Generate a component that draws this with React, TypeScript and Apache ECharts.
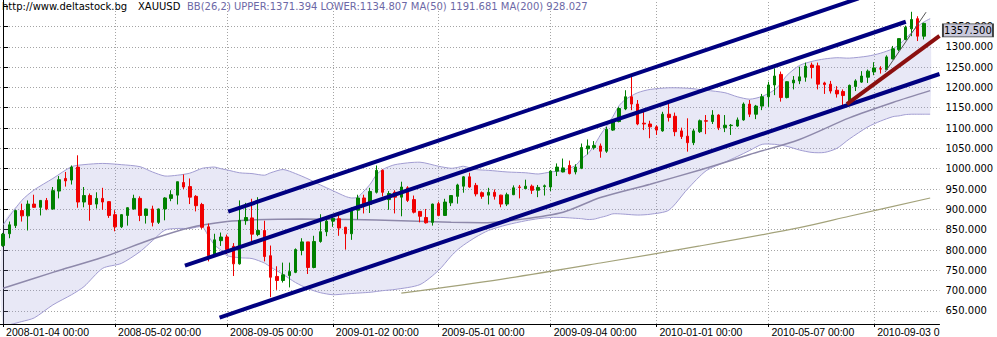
import React, { useEffect, useRef } from 'react';
import * as echarts from 'echarts';

// ---------- categories (weekly bars) ----------
const firstWeek = '2007-12-28';
const slotCount = 151; // 149 bars + 2 empty slots on the right
const categories: string[] = (() => {
  const out: string[] = [];
  const d0 = new Date(firstWeek + 'T00:00:00Z');
  for (let k = 0; k < slotCount; k++) {
    const d = new Date(d0.getTime() + k * 7 * 86400000);
    out.push(d.toISOString().slice(0, 10));
  }
  return out;
})();

// ---------- x tick labels ----------
const xTickIndex = [0, 18, 36, 53, 70, 88, 105, 123, 140];
const xTickLabels = [
  '2008-01-04 00:00', '2008-05-02 00:00', '2008-09-05 00:00', '2009-01-02 00:00',
  '2009-05-01 00:00', '2009-09-04 00:00', '2010-01-01 00:00', '2010-05-07 00:00', '2010-09-03 0',
];

// ---------- y ticks ----------
const yLabelValues = [650, 700, 750, 800, 850, 900, 950, 1000, 1050, 1100, 1150, 1200, 1250, 1300, 1350];
const yTickValues = [650, 700, 750, 800, 850, 900, 950, 1000, 1050, 1100, 1150, 1200, 1250, 1300, 1350, 1400];
const yGridValues = [650, 700, 750, 800, 850, 900, 950, 1000, 1050, 1100, 1150, 1200, 1250, 1300, 1350];
const yMin = 618;
const yMax = 1415;

// ---------- OHLC ----------
const open = [811,840,860,897,884,913,905,922,901,945,976,972,1004,918,934,913,927,919,887,857,885,901,927,885,901,868,901,927,935,966,956,932,912,857,788,823,832,809,766,872,879,838,848,786,735,725,737,745,799,820,757,821,845,871,877,856,840,898,928,912,942,996,924,942,930,953,924,895,880,868,914,885,916,932,957,980,959,941,935,942,935,913,936,955,951,957,947,956,955,994,992,1008,992,1001,1049,1052,1056,1043,1095,1116,1147,1177,1159,1112,1110,1103,1093,1134,1129,1093,1080,1064,1091,1118,1116,1132,1101,1106,1105,1120,1159,1134,1154,1177,1206,1232,1175,1211,1216,1225,1255,1253,1211,1208,1193,1190,1160,1202,1213,1225,1238,1246,1244,1270,1293,1318,1344,1369,1326];
const close = [839,862,897,884,913,905,922,901,946,973,970,1004,918,934,912,927,918,885,857,887,904,927,885,901,868,901,928,936,968,955,930,909,856,786,825,832,801,766,873,880,839,848,784,733,725,739,747,801,820,757,821,845,871,878,854,840,899,928,912,944,996,942,939,930,955,922,893,883,867,913,885,918,934,960,980,955,938,932,942,932,913,936,953,954,957,947,954,958,994,1004,1002,988,1004,1052,1056,1057,1043,1097,1116,1148,1177,1159,1110,1110,1103,1095,1134,1126,1091,1079,1064,1093,1118,1117,1132,1101,1107,1107,1120,1159,1134,1154,1177,1206,1228,1175,1214,1218,1226,1252,1249,1208,1207,1191,1184,1180,1205,1216,1228,1240,1248,1245,1275,1295,1320,1348,1367,1326,1357.5];
const low = [808,829,854,870,848,904,885,898,899,927,956,961,904,905,872,902,899,879,846,854,860,899,871,865,858,864,873,920,912,950,913,895,852,772,786,810,790,736,764,862,821,834,772,684,702,720,708,743,787,741,755,818,834,857,835,801,825,875,890,891,939,932,899,890,883,918,890,868,865,860,883,884,908,914,941,953,932,926,912,924,905,908,935,927,950,938,930,934,945,982,991,986,986,999,1035,1047,1027,1039,1093,1114,1144,1144,1107,1095,1075,1083,1091,1116,1080,1073,1042,1058,1088,1085,1110,1095,1090,1083,1103,1118,1127,1122,1144,1152,1181,1165,1173,1195,1208,1214,1222,1195,1184,1185,1175,1155,1158,1191,1211,1211,1230,1234,1243,1269,1289,1316,1326,1314,1318];
const high = [842,870,899,914,922,936,922,928,955,982,992,1008,1033,955,939,942,953,920,898,888,905,936,932,902,909,902,930,947,968,986,976,935,916,865,840,843,838,817,922,916,926,930,872,811,760,769,769,804,829,820,835,888,879,887,887,857,905,936,936,953,1008,998,945,947,968,957,934,896,901,914,919,926,935,963,982,990,965,944,953,949,936,941,959,960,973,961,960,961,996,1013,1025,1020,1011,1062,1072,1068,1062,1103,1121,1152,1193,1226,1169,1140,1118,1107,1140,1161,1138,1101,1124,1098,1121,1132,1144,1134,1132,1110,1126,1163,1169,1157,1184,1214,1247,1239,1215,1228,1251,1261,1261,1261,1214,1216,1203,1195,1207,1220,1240,1244,1262,1252,1279,1302,1320,1352,1386,1375,1359];
const lastClose = 1357.5;

// ---------- Bollinger bands (26,2) ----------
const bbIdx = [0,3,5,8,11,13,16,19,22,24,26,28,30,32,33,34,35,36,38,40,42,43,45,47,49,51,53,55,56,57,58,59,60,61,63,67,70,72,73,74,76,78,81,84,86,88,90,92,93,94,95,96,97,98,99,100,102,104,107,110,113,116,118,120,122,124,125,126,128,130,132,134,136,139,141,143,144,145,146,147,148,149];
const bbUpper = [862,922,948,976,1005,1010,1013,1010,1005,992,982,984,989,1001,1003,1004,1000,997,990,988,984,990,998,988,975,960,946,932,928,930,945,962,985,998,1010,1016,1006,1001,1003,1006,998,996,992,990,987,992,996,1008,1025,1037,1057,1083,1105,1128,1155,1170,1187,1195,1199,1198,1193,1187,1177,1171,1178,1194,1210,1230,1254,1264,1270,1273,1272,1277,1284,1295,1305,1320,1335,1350,1361,1369];
const bbLower = [612,624,633,665,690,710,755,767,796,823,849,853,853,857,834,812,800,786,781,779,768,758,740,720,705,695,690,692,693,694,695,696,698,700,703,715,750,785,800,812,832,848,862,872,877,880,880,878,877,875,876,880,884,889,889,888,886,888,898,950,995,1016,1030,1045,1060,1060,1058,1055,1046,1040,1040,1050,1073,1103,1117,1128,1130,1133,1134,1134,1134,1134];

// ---------- moving averages ----------
const ma50Idx = [0,8,16,24,30,36,40,48,56,64,72,77,83,90,96,104,112,117,120,128,136,143,149];
const ma50 = [706,745,782,827,855,870,874,876,875,872,868,867,875,893,929,962,997,1020,1035,1072,1125,1163,1192];
const ma200Idx = [64,80,96,112,128,136,149];
const ma200 = [694,728,768,810,855,883,928];

// ---------- drawn trend lines [index, price] ----------
const channelTop = [[36.18, 894.3], [137.5, 1419]];
const channelMid = [[29.22, 761.5], [145.08, 1361.5]];
const channelLow = [[34.79, 633.9], [150.5, 1233]];
const trendRed = [[135.62, 1159], [150.5, 1326.8]];
const trendThin = [[141.76, 1238], [148.34, 1385]];

// ---------- header texts ----------
const siteText = 'http://www.deltastock.bg';
const symbolText = 'XAUUSD';
const indicatorText = 'BB(26,2) UPPER:1371.394 LOWER:1134.807 MA(50) 1191.681 MA(200) 928.027';

const tickSet = new Set(xTickIndex);
const labelByIndex: Record<number, string> = {};
xTickIndex.forEach((i, k) => { labelByIndex[i] = xTickLabels[k]; });

const pair = (idx: number[], vals: number[]) => idx.map((i, k) => [i, vals[k]]);

const candleData = open.map((o, i) => [o, close[i], low[i], high[i]]);

const gridLineStyle = { color: '#a4a4a4', width: 1, type: [1, 2] as number[] };
const bandLine = '#a29dd2';
const bandFill = 'rgba(150,150,215,0.22)';
const bandSmooth = 0.25;

function buildOption(): any {
  const lineBase = {
    type: 'line',
    xAxisIndex: 1,
    yAxisIndex: 0,
    symbol: 'none',
    silent: true,
    animation: false,
  };
  return {
    animation: false,
    backgroundColor: '#ffffff',
    textStyle: { fontFamily: 'DejaVu Sans' },
    grid: { left: -2, right: 57.5, top: 0, bottom: 13, containLabel: false },
    xAxis: [
      {
        type: 'category',
        data: categories,
        boundaryGap: true,
        axisLine: { show: true, lineStyle: { color: '#000000', width: 1 } },
        axisTick: {
          show: true,
          alignWithLabel: true,
          length: 3,
          interval: (i: number) => tickSet.has(i),
          lineStyle: { color: '#000000' },
        },
        axisLabel: {
          show: true,
          interval: (i: number) => tickSet.has(i),
          formatter: (_v: string, i: number) => labelByIndex[i] ?? '',
          align: 'left',
          padding: [0, 0, 0, 3],
          margin: 2,
          color: '#000000',
          fontSize: 10.5,
          fontFamily: "'Liberation Sans', Arial, sans-serif",
          hideOverlap: false,
        },
        splitLine: { show: false },
      },
      {
        type: 'value',
        min: -0.5,
        max: slotCount - 0.5,
        show: false,
        position: 'top',
      },
    ],
    yAxis: [
      {
        type: 'value',
        position: 'right',
        min: yMin,
        max: yMax,
        axisLine: { show: true, lineStyle: { color: '#000000', width: 1 } },
        axisTick: { show: true, length: 5, customValues: yTickValues, lineStyle: { color: '#000000' } },
        axisLabel: {
          show: true,
          margin: 6,
          color: '#000000',
          fontSize: 10,
          fontFamily: 'DejaVu Sans',
          customValues: yLabelValues,
          formatter: (v: number) => v.toFixed(3),
        },
        splitLine: { show: false },
      },
    ],
    graphic: [
      { type: 'text', left: 2, top: 1, silent: true, style: { text: siteText, fill: '#000000', font: '10px "DejaVu Sans"' } },
      { type: 'text', left: 138, top: 1, silent: true, style: { text: symbolText, fill: '#000000', font: '10px "DejaVu Sans"' } },
      { type: 'text', left: 187, top: 1, silent: true, style: { text: indicatorText, fill: '#6c68a6', font: '10px "DejaVu Sans"' } },
    ],
    series: [
      {
        type: 'custom',
        name: 'BB(26,2)',
        xAxisIndex: 1,
        yAxisIndex: 0,
        z: 1,
        silent: true,
        clip: true,
        data: [[0, bbUpper[0]]],
        renderItem: (_params: any, api: any) => {
          const up = bbIdx.map((i, k) => api.coord([i, bbUpper[k]]));
          const lo = bbIdx.map((i, k) => api.coord([i, bbLower[k]]));
          return {
            type: 'group',
            children: [
              {
                type: 'polygon',
                shape: { points: [...up, ...lo.slice().reverse()], smooth: bandSmooth },
                style: { fill: bandFill, stroke: 'none' },
              },
              {
                type: 'polyline',
                shape: { points: up, smooth: bandSmooth },
                style: { stroke: bandLine, lineWidth: 1, fill: 'none' },
              },
              {
                type: 'polyline',
                shape: { points: lo, smooth: bandSmooth },
                style: { stroke: bandLine, lineWidth: 1, fill: 'none' },
              },
            ],
          };
        },
      },
      {
        ...lineBase,
        name: 'MA(50)',
        z: 2,
        smooth: 0.3,
        data: pair(ma50Idx, ma50),
        lineStyle: { color: '#8e89ab', width: 1.5 },
        markLine: {
          silent: true,
          z: 0,
          symbol: ['none', 'none'],
          label: { show: false },
          emphasis: { disabled: true },
          lineStyle: gridLineStyle,
          data: [
            ...xTickIndex.map((i) => ({ xAxis: i })),
            ...yGridValues.map((v) => ({ yAxis: v })),
          ],
        },
      },
      {
        ...lineBase,
        name: 'MA(200)',
        z: 2,
        smooth: 0.3,
        data: pair(ma200Idx, ma200),
        lineStyle: { color: '#a3a27a', width: 1.2 },
      },
      {
        type: 'candlestick',
        name: 'XAUUSD',
        xAxisIndex: 0,
        yAxisIndex: 0,
        z: 3,
        silent: true,
        barWidth: 3,
        data: candleData,
        itemStyle: {
          color: '#008000',
          color0: '#f00000',
          borderColor: '#008000',
          borderColor0: '#f00000',
          borderWidth: 1,
        },
        markPoint: {
          silent: true,
          z: 6,
          symbol: 'rect',
          symbolSize: [50, 13],
          symbolOffset: [44, 7],
          itemStyle: { color: '#c9c9db', borderColor: '#404040', borderWidth: 1 },
          label: {
            show: true,
            position: 'inside',
            formatter: lastClose.toFixed(3),
            color: '#000000',
            fontSize: 10,
            fontFamily: 'DejaVu Sans',
          },
          data: [{ coord: [categories[close.length - 1], lastClose] }],
        },
      },
      { ...lineBase, name: 'channel top', z: 4, data: channelTop, lineStyle: { color: '#000080', width: 4 } },
      { ...lineBase, name: 'channel mid', z: 4, data: channelMid, lineStyle: { color: '#000080', width: 4 } },
      { ...lineBase, name: 'channel low', z: 4, data: channelLow, lineStyle: { color: '#000080', width: 4 } },
      { ...lineBase, name: 'trend red', z: 4, data: trendRed, lineStyle: { color: '#8b0f0f', width: 4 } },
      { ...lineBase, name: 'trend thin', z: 4, data: trendThin, lineStyle: { color: '#555555', width: 1 } },
    ],
  };
}

export default function App() {
  const ref = useRef<HTMLDivElement>(null);
  useEffect(() => {
    if (!ref.current) return;
    const chart = echarts.init(ref.current, undefined, { renderer: 'svg' });
    chart.setOption(buildOption());
    return () => {
      chart.dispose();
    };
  }, []);
  return (
    <div
      ref={ref}
      style={{ position: 'fixed', left: 0, top: 0, width: 997, height: 337, background: '#ffffff' }}
    />
  );
}
